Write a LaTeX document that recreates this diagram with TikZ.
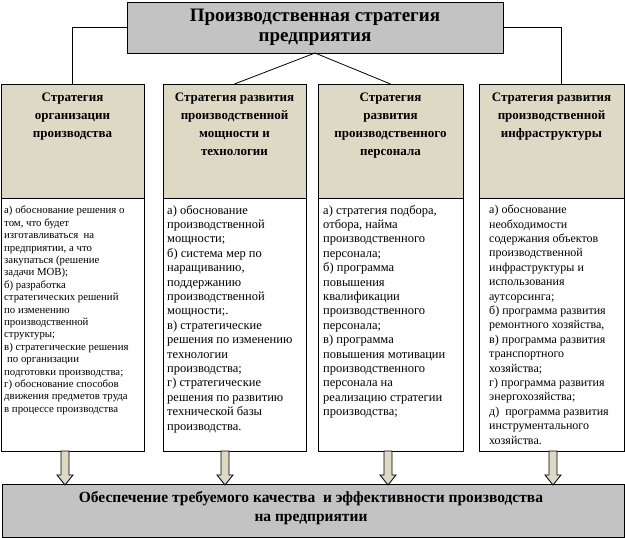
\documentclass[tikz,border=0pt]{standalone}
\usepackage{fontspec}
\setmainfont{Liberation Serif}
\usetikzlibrary{calc}
\definecolor{grayfill}{HTML}{C3C3C3}
\definecolor{beige}{HTML}{DDD9C4}
\tikzset{
  box/.style={draw=black, line width=0.9pt, inner sep=0pt, outer sep=0pt, anchor=north west},
  graybox/.style={box, fill=grayfill},
  headbox/.style={box, fill=beige, minimum width=#1, minimum height=114pt},
  bodybox/.style={box, fill=white, minimum width=#1, minimum height=253pt},
  titletext/.style={align=center, font=\bfseries\fontsize{19}{20.5}\selectfont},
  headtext/.style={align=center, inner sep=0pt, anchor=north, font=\bfseries\fontsize{13}{18}\selectfont},
  smalltext/.style={align=left, inner sep=0pt, anchor=north west, font=\fontsize{10.8}{12.4}\selectfont},
  bodytext/.style={align=left, inner sep=0pt, anchor=north west, font=\fontsize{12.5}{14.4}\selectfont},
  bodytextb/.style={align=left, inner sep=0pt, anchor=north west, font=\fontsize{12}{14.4}\selectfont},
  bottext/.style={align=center, inner sep=0pt, font=\bfseries\fontsize{15.5}{19}\selectfont},
  conn/.style={draw=black, line width=0.8pt},
  blockarr/.style={fill=beige, draw=black, line width=0.8pt, line join=miter}
}
\newcommand\blockarrow[2]{%
  \draw[blockarr] let \p1=(#1), \p2=(#2) in
    (\x1-4pt,\y1) -- (\x1-4pt,\y2+9pt) -- (\x1-8pt,\y2+9pt) -- (\x1,\y2-1pt)
    -- (\x1+8pt,\y2+9pt) -- (\x1+4pt,\y2+9pt) -- (\x1+4pt,\y1) -- cycle;}
\begin{document}
\begin{tikzpicture}[x=1pt, y=-1pt]
\useasboundingbox[fill=white] (0,0) rectangle (625,538);

% title
\node[graybox, minimum width=376pt, minimum height=51pt, titletext, anchor=north west] (title) at (127,2)
  {Производственная стратегия\\предприятия};

% header boxes
\node[headbox=143pt] (h1) at (1,84) {};
\node[headbox=143pt] (h2) at (163,84) {};
\node[headbox=145pt] (h3) at (318,84) {};
\node[headbox=145pt] (h4) at (479,84) {};

\node[headtext] (h1t) at ($(h1.north)+(0,9)$) {Стратегия\\организации\\производства};
\node[headtext] (h2t) at ($(h2.north)+(0,9)$) {Стратегия развития\\производственной\\мощности и\\технологии};
\node[headtext] (h3t) at ($(h3.north)+(0,9)$) {Стратегия\\развития\\производственного\\персонала};
\node[headtext] (h4t) at ($(h4.north)+(0,9)$) {Стратегия развития\\производственной\\инфраструктуры};

% body boxes
\node[bodybox=143pt] (b1) at (1,198) {};
\node[bodybox=143pt] (b2) at (163,198) {};
\node[bodybox=145pt] (b3) at (318,198) {};
\node[bodybox=145pt] (b4) at (479,198) {};

\node[smalltext] (b1t) at ($(b1.north west)+(3,8)$) {а) обоснование решения о\\том, что будет\\изготавливаться\ \ на\\предприятии, а что\\закупаться (решение\\задачи МОВ);\\б) разработка\\стратегических решений\\по изменению\\производственной\\структуры;\\в) стратегические решения\\\hspace*{3pt}по организации\\подготовки производства;\\г) обоснование способов\\движения предметов труда\\в процессе производства};
\node[bodytext] (b2t) at ($(b2.north west)+(4,7)$) {а) обоснование\\производственной\\мощности;\\б) система мер по\\наращиванию,\\поддержанию\\производственной\\мощности;.\\в) стратегические\\решения по изменению\\технологии\\производства;\\г) стратегические\\решения по развитию\\технической базы\\производства.};
\node[bodytext] (b3t) at ($(b3.north west)+(5,7)$) {а) стратегия подбора,\\отбора, найма\\производственного\\персонала;\\б) программа\\повышения\\квалификации\\производственного\\персонала;\\в) программа\\повышения мотивации\\производственного\\персонала на\\реализацию стратегии\\производства;};
\node[bodytextb] (b4t) at ($(b4.north west)+(10,7)$) {а) обоснование\\необходимости\\содержания объектов\\производственной\\инфраструктуры и\\использования\\аутсорсинга;\\б) программа развития\\ремонтного хозяйства,\\в) программа развития\\транспортного\\хозяйства;\\г) программа развития\\энергохозяйства;\\д)\ \ программа развития\\инструментального\\хозяйства.};

% bottom box
\node[graybox, minimum width=622pt, minimum height=53pt] (bot) at (2,484) {};
\node[bottext] (bott) at ($(bot.center)+(-2,-2)$) {Обеспечение требуемого качества\ \ и эффективности производства\\на предприятии};

% connectors
\coordinate (h4c) at ($(h4.north)+(9.5,0)$);
\draw[conn] (title.west) -| (h1.north);
\draw[conn] (title.east) -| (h4c);
\draw[conn] (title.south) -- (h2.north);
\draw[conn] (title.south) -- (h3.north);

% block arrows
\coordinate (a1) at ($(b1.south)+(-7.5,0)$);
\coordinate (a2) at ($(b2.south)+(-9.5,0)$);
\coordinate (a3) at ($(b3.south)+(-2.5,0)$);
\coordinate (a4) at ($(b4.south)+(1.5,0)$);
\blockarrow{a1}{bot.north}
\blockarrow{a2}{bot.north}
\blockarrow{a3}{bot.north}
\blockarrow{a4}{bot.north}
\end{tikzpicture}
\end{document}
